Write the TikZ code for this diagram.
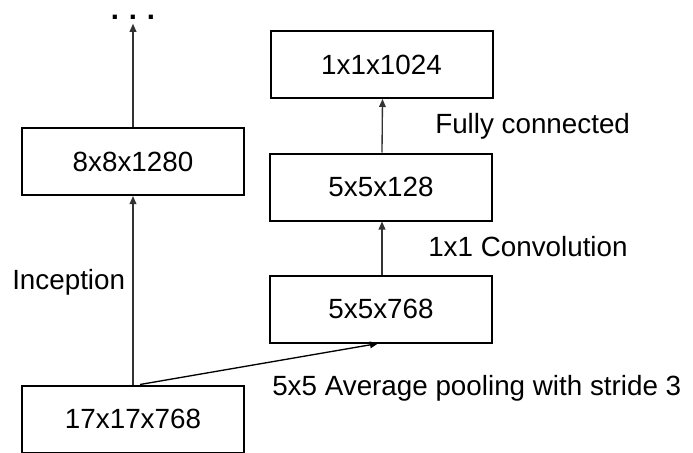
\documentclass[tikz,border=0pt]{standalone}
\usepackage{fontspec}
\setmainfont{Liberation Sans}
\usetikzlibrary{arrows.meta}
\begin{document}
\begin{tikzpicture}[x=0.75pt,y=-0.75pt,
  every node/.style={font=\fontsize{20.85pt}{25pt}\selectfont},
  layer/.style={draw=black,line width=1.5pt,minimum width=166.5pt,minimum height=50.25pt,inner sep=0pt},
  lbl/.style={anchor=base west,inner sep=0pt},
  arr/.style={draw=black!80,line width=1pt,-{Triangle[length=6pt,width=5pt]}}]
\useasboundingbox (0,0) rectangle (693,453);
\node[layer] (b8) at (133,161.5) {8x8x1280};
\node[layer] (b17) at (133,419) {17x17x768};
\node[layer] (b1024) at (381.5,64.5) {1x1x1024};
\node[layer] (b128) at (381,187) {5x5x128};
\node[layer] (b768) at (381,309) {5x5x768};
\node[inner sep=0pt,anchor=base,font=\fontsize{22pt}{25pt}\selectfont\bfseries] (dots) at (133,19.5) {.\,\,.\,\,.};
\node[lbl] (inc) at (12,289) {Inception};
\node[lbl] (fc) at (435,133) {Fully connected};
\node[lbl] (conv) at (428,256) {1x1 Convolution};
\node[lbl] (pool) at (272,395) {5x5 Average pooling with stride 3};
\draw[arr] (b17.north) -- (b8.south);
\draw[arr,shorten >=3pt] (b8.north) -- (b8.north |- dots.south);
\draw[arr] ([xshift=0.75pt]b768.north) -- ([xshift=0.75pt]b128.south);
\draw[arr] ([xshift=0.75pt]b128.north) -- ([xshift=0.75pt]b1024.south);
\draw[arr,draw=black] ([xshift=5.25pt]b17.north) -- ([xshift=-2.25pt]b768.south);
\end{tikzpicture}
\end{document}
